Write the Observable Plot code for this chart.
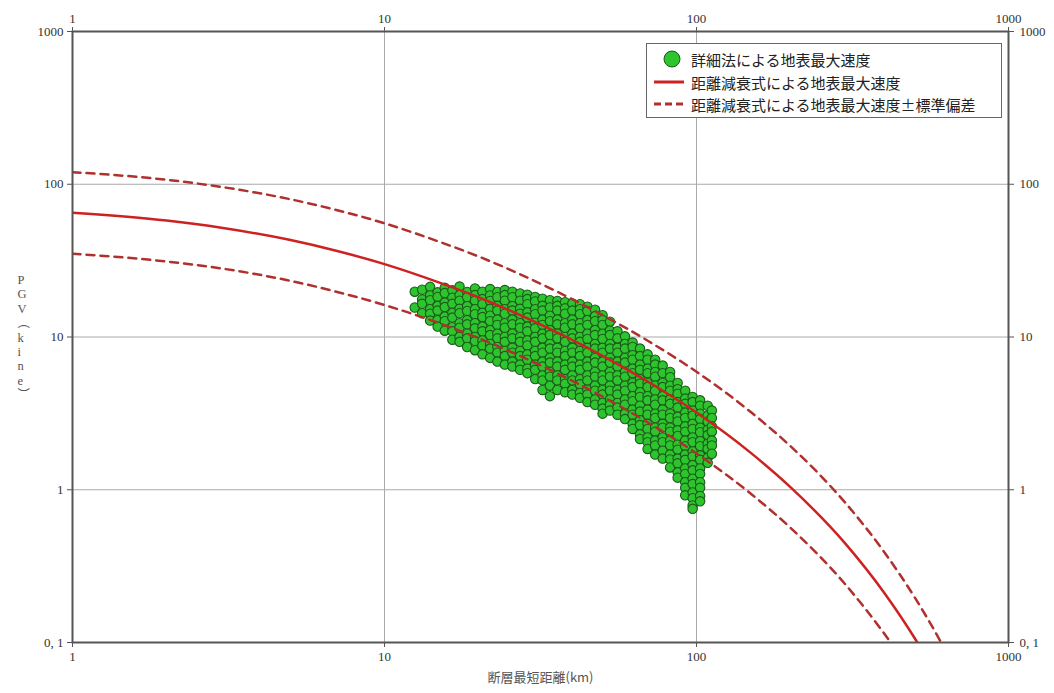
<!DOCTYPE html>
<html>
<head>
<meta charset="utf-8">
<script src="https://cdn.jsdelivr.net/npm/d3@7"></script>
<script src="https://cdn.jsdelivr.net/npm/@observablehq/plot@0.6"></script>
<style>
  body { margin: 0; background: #fff; }
  #wrap { position: relative; width: 1054px; height: 693px; }
  #legend { position: absolute; left: 646px; top: 43px; width: 356px; height: 75px;
    border: 1.5px solid #666; background: #fff; box-sizing: border-box;
    font-family: "Noto Sans CJK JP", sans-serif; font-size: 15px; color: #222; }
  .row { position: absolute; left: 0; height: 22px; display: flex; align-items: center; }
  .row svg { width: 44px; height: 22px; flex: none; }
  .row span { white-space: nowrap; }
</style>
</head>
<body>
<div id="wrap"></div>
<script>
// ---- Data ----
const xTicks = [1, 10, 100, 1000];
const yTicks = [0.1, 1, 10, 100, 1000];
const yTickLabels = ["0, 1", "1", "10", "100", "1000"];

const legendLabels = [
  "詳細法による地表最大速度",
  "距離減衰式による地表最大速度",
  "距離減衰式による地表最大速度±標準偏差"
];
const xLabel = "断層最短距離(km)";
const yLabel = "P\nG\nV\n︵\nk\ni\nn\ne\n︶";

// attenuation curve (mean)
const meanKm  = [1, 2, 3, 5, 7, 10, 15, 20, 30, 50, 70, 100, 150, 200, 300, 400, 500, 530];
const meanPgv = [65.0, 57.8, 51.9, 43.1, 36.7, 30.0, 22.7, 18.2, 12.7, 7.53, 5.09, 3.20, 1.73, 1.04, 0.444, 0.211, 0.107, 0.088];
// mean + 1 sigma
const upperKm  = [1, 2, 3, 5, 7, 10, 15, 20, 30, 50, 70, 100, 150, 200, 300, 400, 500, 600, 650];
const upperPgv = [120, 107, 96.0, 79.7, 67.9, 55.5, 42.0, 33.7, 23.5, 13.9, 9.42, 5.92, 3.20, 1.93, 0.821, 0.390, 0.198, 0.105, 0.077];
// mean - 1 sigma
const lowerKm  = [1, 2, 3, 5, 7, 10, 15, 20, 30, 50, 70, 100, 150, 200, 300, 400, 450];
const lowerPgv = [35.1, 31.2, 28.1, 23.3, 19.8, 16.2, 12.3, 9.84, 6.86, 4.07, 2.75, 1.73, 0.935, 0.564, 0.240, 0.114, 0.081];

// detailed-method points: distance of each column, PGV values in that column
const cloudKm = [12.5, 13.2, 14.0, 14.8, 15.6, 16.5, 17.4, 18.4, 19.5, 20.6, 21.8, 23.0, 24.3, 25.7, 27.2, 28.7, 30.4, 32.1, 33.9, 35.8, 37.9, 40.0, 42.3, 44.7, 47.3, 50.0, 52.8, 55.8, 59.0, 62.4, 65.9, 69.7, 73.7, 77.9, 82.3, 87.0, 92.0, 97.2, 102.7, 108.6, 112.0];
const cloudPgv = [
  [19.8, 15.6],
  [20.4, 17.6, 16.5, 14.3],
  [21.3, 18.7, 17.4, 15.2, 14.2, 12.8],
  [19.6, 18.3, 16.0, 14.9, 12.9, 11.7],
  [21.0, 19.4, 16.8, 15.7, 13.6, 12.7, 11.0],
  [20.2, 18.1, 16.5, 14.4, 13.4, 11.6, 10.9, 9.6],
  [21.4, 18.8, 17.3, 15.3, 14.3, 12.3, 11.5, 10.0, 9.3],
  [19.7, 18.2, 15.9, 14.8, 12.9, 12.1, 10.5, 9.8, 8.6],
  [20.8, 18.8, 17.3, 15.2, 14.1, 12.3, 11.4, 10.0, 9.4, 8.2],
  [19.8, 17.7, 16.4, 14.4, 13.5, 11.7, 10.9, 9.5, 8.8, 7.7],
  [20.6, 18.7, 17.2, 15.3, 13.8, 12.7, 11.1, 10.3, 9.0, 8.4, 7.3],
  [19.7, 18.2, 16.0, 14.9, 13.0, 12.0, 10.5, 9.8, 8.6, 7.9, 6.9],
  [20.3, 18.8, 17.3, 15.2, 14.2, 12.3, 11.5, 10.0, 9.3, 8.1, 7.5, 6.6],
  [19.8, 18.2, 15.9, 14.9, 13.0, 12.1, 10.5, 9.8, 8.5, 7.9, 6.9, 6.4],
  [19.3, 17.3, 15.3, 14.2, 12.3, 11.5, 10.0, 9.3, 8.1, 7.5, 6.6, 6.1],
  [18.9, 17.7, 16.4, 14.5, 13.4, 11.7, 10.9, 9.5, 8.8, 7.7, 7.1, 6.2, 5.8],
  [18.3, 17.1, 15.2, 14.1, 12.4, 11.4, 10.0, 9.3, 8.1, 7.5, 6.6, 6.1, 5.3],
  [17.8, 16.0, 14.9, 13.0, 12.0, 10.5, 9.8, 8.5, 7.9, 6.9, 6.4, 5.6, 5.2, 4.5],
  [17.4, 15.6, 13.8, 12.7, 11.1, 10.3, 9.0, 8.4, 7.3, 6.8, 5.9, 5.5, 4.8, 4.1],
  [17.2, 16.0, 14.9, 13.0, 12.1, 10.5, 9.8, 8.5, 7.9, 6.9, 6.4, 5.6, 5.2, 4.5],
  [16.9, 15.4, 14.2, 12.3, 11.5, 10.0, 9.3, 8.1, 7.5, 6.6, 6.1, 5.3, 4.95, 4.35],
  [16.6, 14.9, 13.0, 12.1, 10.5, 9.8, 8.5, 7.9, 6.9, 6.4, 5.6, 5.2, 4.5, 4.2],
  [16.4, 15.2, 14.1, 12.3, 11.4, 10.0, 9.3, 8.1, 7.5, 6.6, 6.1, 5.3, 4.9, 4.3, 4.0],
  [15.8, 14.8, 12.9, 12.0, 10.5, 9.7, 8.5, 7.9, 6.9, 6.4, 5.6, 5.2, 4.5, 4.2, 3.75],
  [15.1, 13.7, 12.7, 11.1, 10.3, 9.0, 8.4, 7.3, 6.8, 5.9, 5.5, 4.8, 4.45, 3.9, 3.6],
  [13.9, 12.9, 12.0, 10.5, 9.7, 8.5, 7.9, 6.9, 6.4, 5.6, 5.2, 4.5, 4.2, 3.7, 3.4, 3.15],
  [12.6, 11.0, 10.3, 9.0, 8.4, 7.3, 6.8, 5.9, 5.5, 4.8, 4.45, 3.9, 3.6, 3.3],
  [10.9, 9.8, 8.5, 7.9, 6.9, 6.4, 5.6, 5.2, 4.5, 4.2, 3.7, 3.45, 3.1],
  [10.1, 9.0, 8.4, 7.3, 6.8, 5.9, 5.5, 4.8, 4.45, 3.9, 3.6, 3.15, 2.9],
  [9.2, 8.6, 7.6, 7.1, 6.2, 5.8, 5.0, 4.7, 4.1, 3.8, 3.35, 3.1, 2.7, 2.5],
  [8.4, 7.5, 6.6, 6.1, 5.3, 4.95, 4.35, 4.05, 3.55, 3.25, 2.85, 2.65, 2.3, 2.15],
  [7.7, 7.1, 6.2, 5.8, 5.0, 4.7, 4.1, 3.85, 3.35, 3.1, 2.7, 2.5, 2.2, 2.05, 1.85],
  [7.1, 6.6, 5.9, 5.5, 4.8, 4.45, 3.9, 3.6, 3.15, 2.95, 2.55, 2.4, 2.1, 1.95, 1.7],
  [6.5, 5.8, 5.0, 4.7, 4.1, 3.85, 3.35, 3.1, 2.7, 2.55, 2.2, 2.05, 1.8, 1.6],
  [5.9, 5.45, 4.8, 4.45, 3.9, 3.65, 3.15, 2.95, 2.55, 2.4, 2.1, 1.95, 1.7, 1.58, 1.4],
  [5.0, 4.55, 4.25, 3.75, 3.45, 3.0, 2.8, 2.45, 2.25, 1.97, 1.83, 1.6, 1.49, 1.3, 1.2],
  [4.45, 3.95, 3.65, 3.2, 2.95, 2.6, 2.4, 2.1, 1.93, 1.7, 1.57, 1.38, 1.27, 1.12, 1.03, 0.92],
  [4.05, 3.75, 3.3, 3.05, 2.7, 2.5, 2.2, 2.05, 1.78, 1.65, 1.45, 1.34, 1.18, 1.09, 0.96, 0.88, 0.79, 0.75],
  [3.85, 3.55, 3.15, 2.9, 2.55, 2.38, 2.08, 1.93, 1.68, 1.57, 1.38, 1.27, 1.12, 1.03, 0.91, 0.84],
  [3.55, 3.05, 2.8, 2.47, 2.28, 2.0, 1.85, 1.62, 1.5],
  [3.3, 2.95, 2.6, 2.4, 2.1, 1.95, 1.72]
];

// ---- Tables built from the arrays ----
const cloud = cloudKm.flatMap((km, i) => cloudPgv[i].map(v => ({km, v})));
const mean = meanKm.map((km, i) => ({km, v: meanPgv[i]}));
const upper = upperKm.map((km, i) => ({km, v: upperPgv[i], s: "u"}));
const lower = lowerKm.map((km, i) => ({km, v: lowerPgv[i], s: "l"}));
const bands = upper.concat(lower);

const yFmt = d => yTickLabels[yTicks.indexOf(d)];
const xFmt = d => String(d);

const GREEN_FILL = "#2ec42e", GREEN_STROKE = "#1a5a1a";
const RED = "#cc2222", DASH_RED = "#b0302e";

const chart = Plot.plot({
  width: 1054,
  height: 693,
  marginLeft: 72,
  marginRight: 46,
  marginTop: 31,
  marginBottom: 51,
  style: {fontFamily: "'Liberation Serif', 'DejaVu Serif', serif", fontSize: "13px", color: "#333", background: "#fff"},
  x: {type: "log", domain: [1, 1000]},
  y: {type: "log", domain: [0.1, 1000]},
  marks: [
    Plot.gridX(xTicks, {stroke: "#aaa", strokeOpacity: 1, strokeWidth: 1}),
    Plot.gridY(yTicks, {stroke: "#aaa", strokeOpacity: 1, strokeWidth: 1}),
    Plot.dot(cloud, {x: "km", y: "v", r: 4.7, fill: GREEN_FILL, stroke: GREEN_STROKE, strokeWidth: 1.1}),
    Plot.line(mean, {x: "km", y: "v", stroke: RED, strokeWidth: 2.5, curve: "monotone-x", clip: true}),
    Plot.line(bands, {x: "km", y: "v", z: "s", stroke: DASH_RED, strokeWidth: 2.5, strokeDasharray: "8,6", curve: "monotone-x", clip: true}),
    Plot.frame({stroke: "#555", strokeWidth: 2}),
    Plot.axisX(xTicks, {anchor: "bottom", tickFormat: xFmt, tickSize: 5, tickPadding: 4, label: null, stroke: "#555"}),
    Plot.axisX(xTicks, {anchor: "top", tickFormat: xFmt, tickSize: 5, tickPadding: 4, label: null, stroke: "#555"}),
    Plot.axisY(yTicks, {anchor: "left", tickFormat: yFmt, tickSize: 5, tickPadding: 4, label: null, stroke: "#555"}),
    Plot.axisY(yTicks, {anchor: "right", tickFormat: yFmt, tickSize: 5, tickPadding: 6, label: null, stroke: "#555"}),
    Plot.text([xLabel], {frameAnchor: "bottom", dy: 39, text: d => d, fontFamily: "'Noto Sans CJK JP', sans-serif", fontSize: 13, fill: "#555"}),
    Plot.text([yLabel], {frameAnchor: "left", dx: -55, text: d => d, lineHeight: 1.15, fontFamily: "'Liberation Serif', 'Noto Sans CJK JP', serif", fontSize: 12.5, fill: "#555"})
  ]
});

const wrap = document.getElementById("wrap");
wrap.appendChild(chart);

// legend overlay
const legend = document.createElement("div");
legend.id = "legend";
const swatches = [
  `<svg viewBox="0 0 44 22"><circle cx="25" cy="11" r="8" fill="${GREEN_FILL}" stroke="${GREEN_STROKE}" stroke-width="1"/></svg>`,
  `<svg viewBox="0 0 44 22"><line x1="7" x2="37" y1="11" y2="11" stroke="${RED}" stroke-width="3"/></svg>`,
  `<svg viewBox="0 0 44 22"><line x1="7" x2="37" y1="11" y2="11" stroke="${DASH_RED}" stroke-width="3" stroke-dasharray="7,4"/></svg>`
];
const rowTops = [4, 27, 49];
legendLabels.forEach((t, i) => {
  const row = document.createElement("div");
  row.className = "row";
  row.style.top = rowTops[i] + "px";
  row.innerHTML = swatches[i] + `<span>${t}</span>`;
  legend.appendChild(row);
});
wrap.appendChild(legend);
</script>
</body>
</html>
